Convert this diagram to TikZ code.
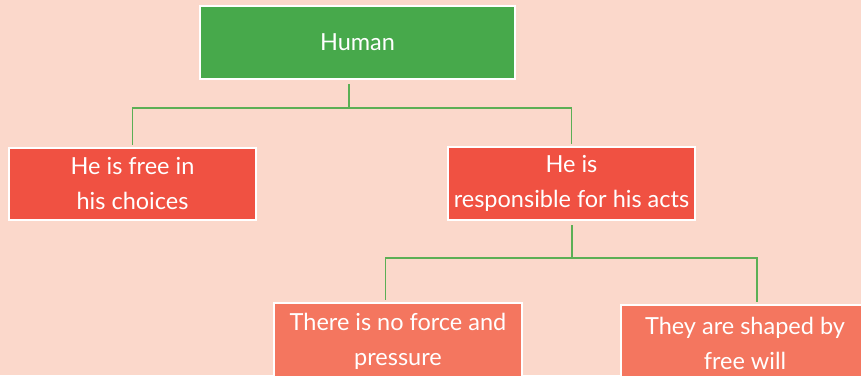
\documentclass[tikz,border=0pt]{standalone}
\usepackage{fontspec}
\setmainfont{Lato}
\definecolor{peachbg}{HTML}{FBD8CB}
\definecolor{topgreen}{HTML}{47A94B}
\definecolor{midred}{HTML}{F05142}
\definecolor{lowsalmon}{HTML}{F4765F}
\definecolor{linkgreen}{HTML}{5BAF55}

\begin{document}
\begin{tikzpicture}[x=1pt,y=-1pt,
    box/.style={rectangle,draw=white,line width=2pt,text=white,align=center,
      inner sep=0pt,font=\fontsize{23.5}{35}\selectfont},
    link/.style={draw=linkgreen,line width=1.2pt}]

    % page and background
    \useasboundingbox[fill=peachbg] (0,0) rectangle (861,375);

    % boxes
    \node[box,fill=topgreen,minimum width=315pt,minimum height=73pt] (human) at (357.5,42.5) {Human};

    \node[box,fill=midred,minimum width=247pt,minimum height=72pt] (free) at (132.5,184) {He is free in\\his choices};
    \node[box,fill=midred,minimum width=247pt,minimum height=73pt] (resp) at (571.5,183.5) {He is\\responsible for his acts};

    \node[box,fill=lowsalmon,minimum width=248pt,minimum height=76pt] (noforce) at (398,341) {There is no force and\\pressure};
    \node[box,fill=lowsalmon,minimum width=248pt,minimum height=76pt] (shaped) at (745,343) {They are shaped by\\free will};

    % branch points
    \coordinate (hsplit) at (349,108);
    \coordinate (rsplit) at (572,258);

    % connectors
    \draw[link,shorten >=4pt] (hsplit) -- (hsplit |- human.south);
    \draw[link,shorten >=2pt] (hsplit) -| (free.north);
    \draw[link,shorten >=2pt] (hsplit) -| (resp.north);

    \draw[link,shorten >=4pt] (rsplit) -- (rsplit |- resp.south);
    \draw[link,shorten >=2pt] (rsplit) -| ([xshift=-12.5pt]noforce.north);
    \draw[link,shorten >=2pt] (rsplit) -| ([xshift=12pt]shaped.north);

\end{tikzpicture}
\end{document}
